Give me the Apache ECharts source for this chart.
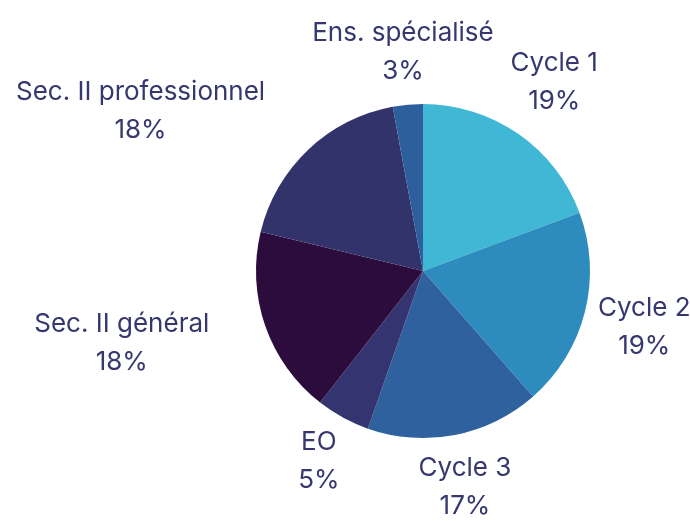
<!DOCTYPE html>
<html>
<head>
<meta charset="utf-8">
<script src="https://cdn.jsdelivr.net/npm/echarts@6/dist/echarts.min.js"></script>
<style>
  html, body { margin: 0; padding: 0; background: #fff; }
  #chart { width: 690px; height: 521px; }
</style>
</head>
<body>
<div id="chart"></div>
<script>
// part de chaque niveau (%)
const categories = ['Cycle 1', 'Cycle 2', 'Cycle 3', 'EO', 'Sec. II général', 'Sec. II professionnel', 'Ens. spécialisé'];
const shares = [19.3, 19.2, 16.8, 5.2, 18.2, 18.3, 2.9];
const colors = ['#41b7d6', '#2d8bbd', '#2e619e', '#343470', '#2c0b3d', '#33336c', '#2e5f9d'];

const textColor = '#35376e';
const chart = echarts.init(document.getElementById('chart'));

// décalage manuel des étiquettes de gauche pour éviter le chevauchement
const labelShift = {
  'Sec. II général': [-47, -16],
  'Sec. II professionnel': [-85, 49],
};

// place le bloc de texte le long de l'angle médian de la part
const placeLabel = (params) => {
  const data = chart.getModel().getSeriesByIndex(0).getData();
  const lay = data.getItemLayout(params.dataIndex);
  const mid = (lay.startAngle + lay.endAngle) / 2;
  const ux = Math.cos(mid);
  const uy = Math.sin(mid);
  const w = params.labelRect.width;
  const h = params.labelRect.height;
  const d = lay.r + 7 + Math.abs(ux) * w / 2 + Math.abs(uy) * h / 2;
  const shift = labelShift[data.getName(params.dataIndex)] || [0, 0];
  return {
    x: lay.cx + ux * d + shift[0],
    y: lay.cy + uy * d + shift[1],
    align: 'center',
    verticalAlign: 'middle',
  };
};

const option = {
  animation: false,
  series: [
    {
      type: 'pie',
      center: [423, 271],
      radius: 167,
      startAngle: 90,
      clockwise: true,
      data: categories.map((name, i) => ({
        name,
        value: shares[i],
        itemStyle: { color: colors[i] },
      })),
      label: {
        show: true,
        position: 'outside',
        color: textColor,
        fontFamily: 'Inter',
        fontSize: 26,
        lineHeight: 38,
        overflow: 'none',
        formatter: (p) => p.name + '\n' + Math.round(p.percent) + '%',
      },
      labelLine: { show: false },
      labelLayout: placeLabel,
      emphasis: { disabled: true },
    },
  ],
};

chart.setOption(option);
</script>
</body>
</html>
